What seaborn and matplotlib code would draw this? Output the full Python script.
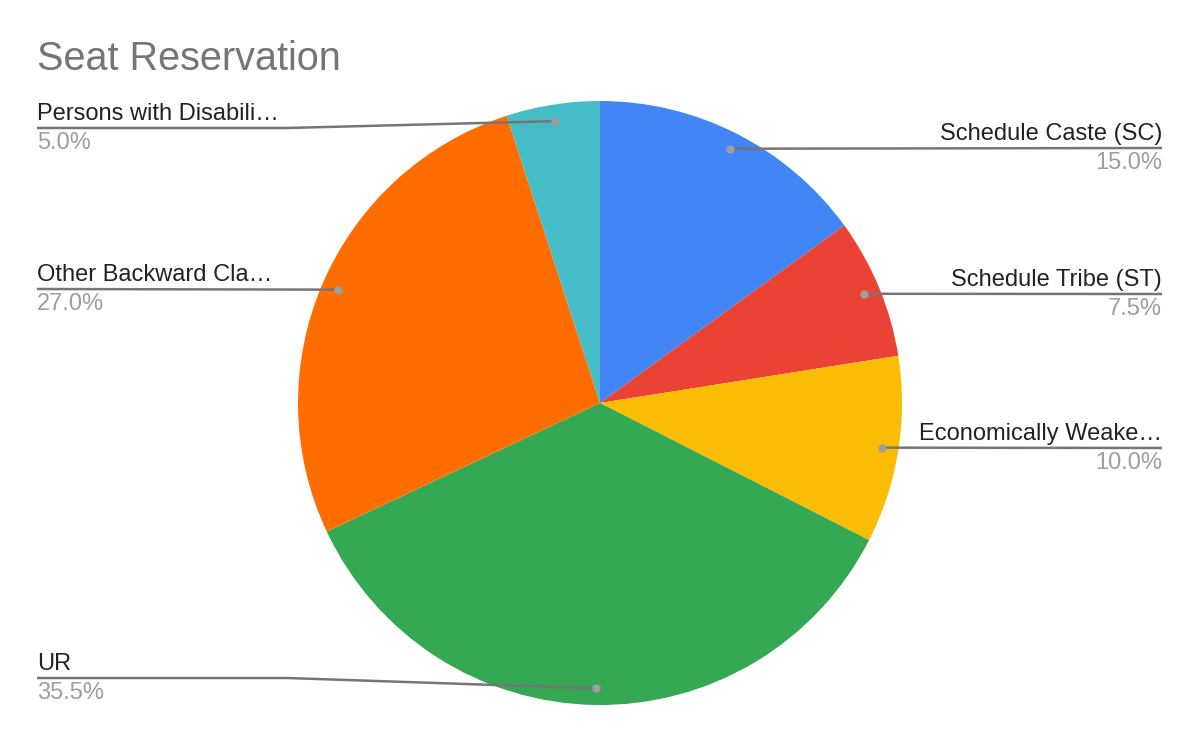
import numpy as np
import matplotlib.pyplot as plt
import seaborn as sns

# --- data ---
categories = ['Schedule Caste (SC)', 'Schedule Tribe (ST)', 'Economically Weake\u2026',
              'UR', 'Other Backward Cla\u2026', 'Persons with Disabili\u2026']
shares = [15.0, 7.5, 10.0, 35.5, 27.0, 5.0]
colors = ['#4285F4', '#EA4335', '#FBBC04', '#34A853', '#FF6D01', '#46BDC6']

# --- layout (pixel coords, top-down) ---
W, H = 1200, 742
cx, cy, R = 600, 403, 302
label_y = [148, 294, 448, 678, 289, 128]
side = ['right', 'right', 'right', 'left', 'left', 'left']
left_x, right_x = 37, 1162

sns.set_theme(style='white')
plt.rcParams['font.family'] = ['Liberation Sans', 'DejaVu Sans']

fig = plt.figure(figsize=(12, 7.42), dpi=100)
ax = fig.add_axes([0, 0, 1, 1])

wedges, _ = ax.pie(shares, colors=colors, startangle=90, counterclock=False,
                   center=(cx, H - cy), radius=R, wedgeprops=dict(linewidth=0))
ax.set_xlim(0, W)
ax.set_ylim(0, H)
ax.set_aspect('equal')
ax.axis('off')

for w, name, val, ly, s in zip(wedges, categories, shares, label_y, side):
    mid = np.deg2rad((w.theta1 + w.theta2) / 2)
    dx = cx + 0.945 * R * np.cos(mid)
    dy = (H - cy) + 0.945 * R * np.sin(mid)
    yy = H - ly
    if s == 'right':
        xs = [dx, dx + 20, right_x] if abs(dy - yy) > 1 else [dx, right_x]
        ys = [dy, yy, yy] if abs(dy - yy) > 1 else [dy, yy]
        tx, ha = right_x, 'right'
    else:
        knee = left_x + 250
        if abs(dy - yy) > 1:
            xs, ys = [left_x, knee, dx], [yy, yy, dy]
        else:
            xs, ys = [left_x, dx], [yy, dy]
        tx, ha = left_x, 'left'
    ax.plot(xs, ys, color='#757575', lw=1.8, solid_capstyle='butt', zorder=3)
    ax.plot([dx], [dy], 'o', ms=6, color='#9e9e9e', mec='none', zorder=4)
    ax.text(tx, yy + 8, name, ha=ha, va='baseline', fontsize=17, color='#222222')
    ax.text(tx, yy - 21, f'{val:.1f}%', ha=ha, va='baseline', fontsize=17, color='#9e9e9e')

ax.text(37, H - 70, 'Seat Reservation', ha='left', va='baseline', fontsize=28.5, color='#757575')

fig.savefig('out.png', dpi=100)
